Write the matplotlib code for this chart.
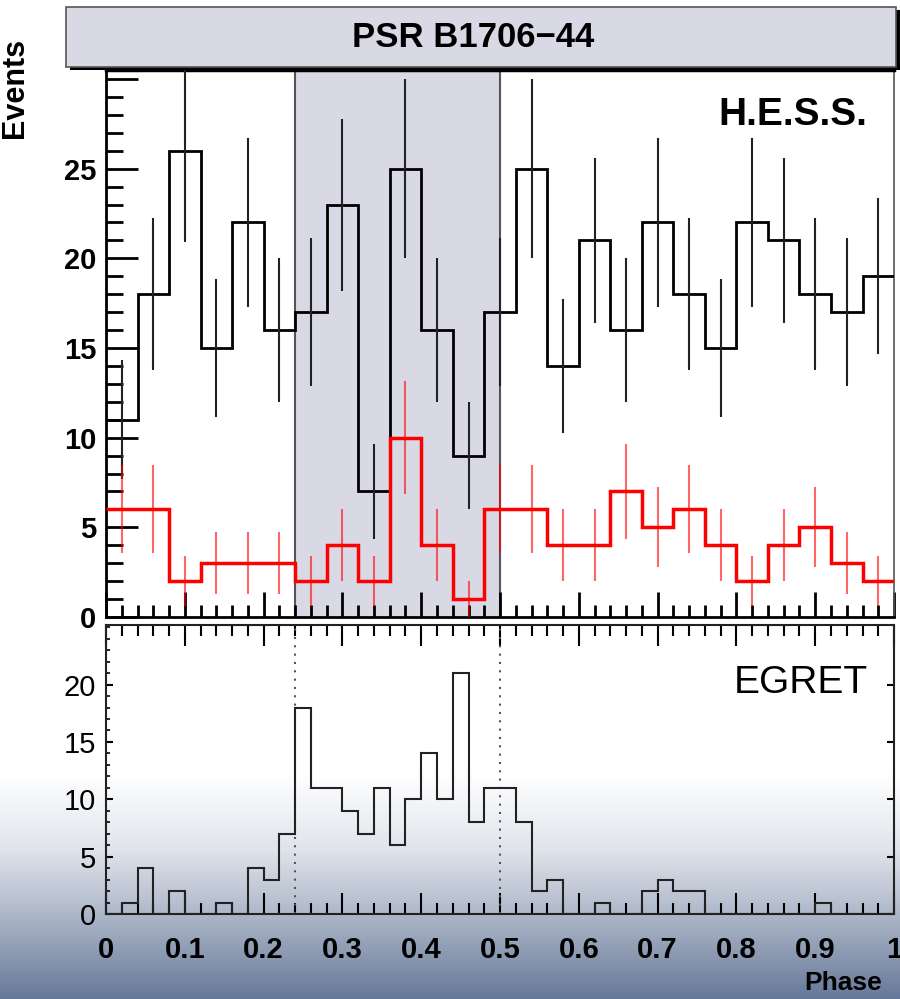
import numpy as np
import matplotlib
matplotlib.use("Agg")
import matplotlib.pyplot as plt
from matplotlib.colors import LinearSegmentedColormap
from matplotlib.patches import Rectangle
from matplotlib.ticker import MultipleLocator

plt.rcParams['font.family'] = ['Liberation Sans', 'DejaVu Sans']

# H.E.S.S. histogramas (25 bins de 0.04 en fase)
hess_edges = np.linspace(0, 1, 26)
hess_total = [11, 18, 26, 15, 22, 16, 17, 23, 7, 25, 16, 9, 17,
              25, 14, 21, 16, 22, 18, 15, 22, 21, 18, 17, 19]
hess_high = [6, 6, 2, 3, 3, 3, 2, 4, 2, 10, 4, 1, 6,
             6, 4, 4, 7, 5, 6, 4, 2, 4, 5, 3, 2]

# EGRET (50 bins de 0.02)
egret_edges = np.linspace(0, 1, 51)
egret_counts = [0, 1, 4, 0, 2, 0, 0, 1, 0, 4, 3, 7, 18, 11, 11, 9, 7, 11, 6, 10,
                14, 10, 21, 8, 11, 11, 8, 2, 3, 0, 0, 1, 0, 0, 2, 3, 2, 2, 0, 0,
                0, 0, 0, 0, 0, 1, 0, 0, 0, 0]

# ventana de fase
on_phase = [0.24, 0.5]

phase_labels = ['0', '0.1', '0.2', '0.3', '0.4', '0.5', '0.6', '0.7', '0.8', '0.9', '1']

fig = plt.figure(figsize=(9, 9.99), dpi=100)

# fondo con degradado (solo parte baja)
bg = fig.add_axes([0, 0, 1, 0.30], zorder=-10)
cmap = LinearSegmentedColormap.from_list(
    'bg', [(0.0, '#ffffff'), (0.25, '#ffffff'), (0.5, '#e0e4eb'),
           (0.67, '#b9c2d1'), (0.84, '#8f9cb3'), (1.0, '#66789a')])
grad = np.linspace(0, 1, 400)[:, None]
bg.imshow(grad, aspect='auto', cmap=cmap, extent=[0, 1, 0, 1],
          origin='upper', vmin=0, vmax=1)
bg.set_xlim(0, 1)
bg.set_ylim(0, 1)
bg.axis('off')

# caja del titulo
fig.patches.append(Rectangle((0.0778, 0.9299), 0.9222, 0.0601, transform=fig.transFigure,
                             facecolor='black', edgecolor='none', zorder=5))
fig.patches.append(Rectangle((0.0733, 0.9329), 0.9222, 0.0601, transform=fig.transFigure,
                             facecolor='#d9d9e6', edgecolor='#555555', lw=1.2, zorder=6))
fig.text(0.5256, 0.962, 'PSR B1706\u221244', ha='center', va='center',
         fontsize=25, fontweight='bold', zorder=7)

# panel superior
ax1 = fig.add_axes([0.1178, 0.3824, 0.8756, 0.5475])
ax1.axvspan(on_phase[0], on_phase[1], color='#d9d9e6', lw=0, zorder=0)
for xv in on_phase:
    ax1.axvline(xv, color='#555555', lw=1.5, zorder=1)

centers = 0.5 * (hess_edges[:-1] + hess_edges[1:])
ax1.stairs(hess_total, hess_edges, baseline=None, color='black', lw=2, zorder=3)
ax1.errorbar(centers, hess_total, yerr=np.sqrt(hess_total), fmt='none',
             ecolor='#222222', elinewidth=1.5, zorder=3)
ax1.stairs(hess_high, hess_edges, baseline=None, color='#ff0000', lw=2.5, zorder=4)
ax1.errorbar(centers, hess_high, yerr=np.sqrt(hess_high), fmt='none',
             ecolor='#ff0000', elinewidth=1.5, alpha=0.6, zorder=4)

ax1.set_xlim(0, 1)
ax1.set_ylim(0, 30.5)
ax1.yaxis.set_minor_locator(MultipleLocator(1))
ax1.xaxis.set_major_locator(MultipleLocator(0.1))
ax1.xaxis.set_minor_locator(MultipleLocator(0.02))
ax1.set_yticks(np.arange(0, 31, 5))
ax1.set_yticklabels(['0', '5', '10', '15', '20', '25', ''], fontweight='bold')
ax1.tick_params(axis='y', which='major', direction='in', length=23, width=2, pad=7,
                labelsize=21)
ax1.tick_params(axis='y', which='minor', direction='in', length=12, width=2)
ax1.tick_params(axis='x', which='major', direction='in', length=18, width=2, labelbottom=False)
ax1.tick_params(axis='x', which='minor', direction='in', length=9, width=2)
ax1.spines['left'].set_linewidth(2)
ax1.spines['bottom'].set_linewidth(2)
ax1.spines['right'].set_color('#555555')
ax1.spines['right'].set_linewidth(1.2)
ax1.spines['top'].set_linewidth(2.5)
ax1.text(0.966, 0.899, 'H.E.S.S.', transform=ax1.transAxes, ha='right',
         va='baseline', fontsize=28, fontweight='bold')

# panel inferior
ax2 = fig.add_axes([0.1178, 0.0851, 0.8756, 0.2893])
ax2.set_facecolor('none')
ax2.stairs(egret_counts, egret_edges, baseline=None, color='#222222', lw=1.5, zorder=3)
for xv in on_phase:
    ax2.axvline(xv, color='#555555', lw=1.5, ls=(0, (1, 3)), zorder=2)

ax2.set_xlim(0, 1)
ax2.set_ylim(0, 25.2)
ax2.xaxis.set_minor_locator(MultipleLocator(0.02))
ax2.yaxis.set_minor_locator(MultipleLocator(1))
ax2.set_xticks(np.arange(0, 1.01, 0.1))
ax2.set_xticklabels(phase_labels, fontweight='bold')
ax2.set_yticks([0, 5, 10, 15, 20])
ax2.tick_params(axis='x', which='major', direction='in', length=15, width=1.5,
                top=True, pad=16, labelsize=21)
ax2.tick_params(axis='x', which='minor', direction='in', length=8, width=1.5, top=True)
ax2.tick_params(axis='y', which='major', direction='in', length=5, width=1.5,
                right=True, pad=7, labelsize=21)
ax2.tick_params(axis='y', which='minor', direction='in', length=3, width=1.2)
for sp in ax2.spines.values():
    sp.set_linewidth(1.5)
    sp.set_color('#222222')
ax2.text(0.967, 0.765, 'EGRET', transform=ax2.transAxes, ha='right',
         va='baseline', fontsize=28)

fig.text(0.0167, 0.962, 'Events', rotation=90, ha='center', va='top',
         fontsize=22, fontweight='bold')
fig.text(0.98, 0.009, 'Phase', ha='right', va='baseline', fontsize=19, fontweight='bold')

fig.savefig('out.png', dpi=100)
